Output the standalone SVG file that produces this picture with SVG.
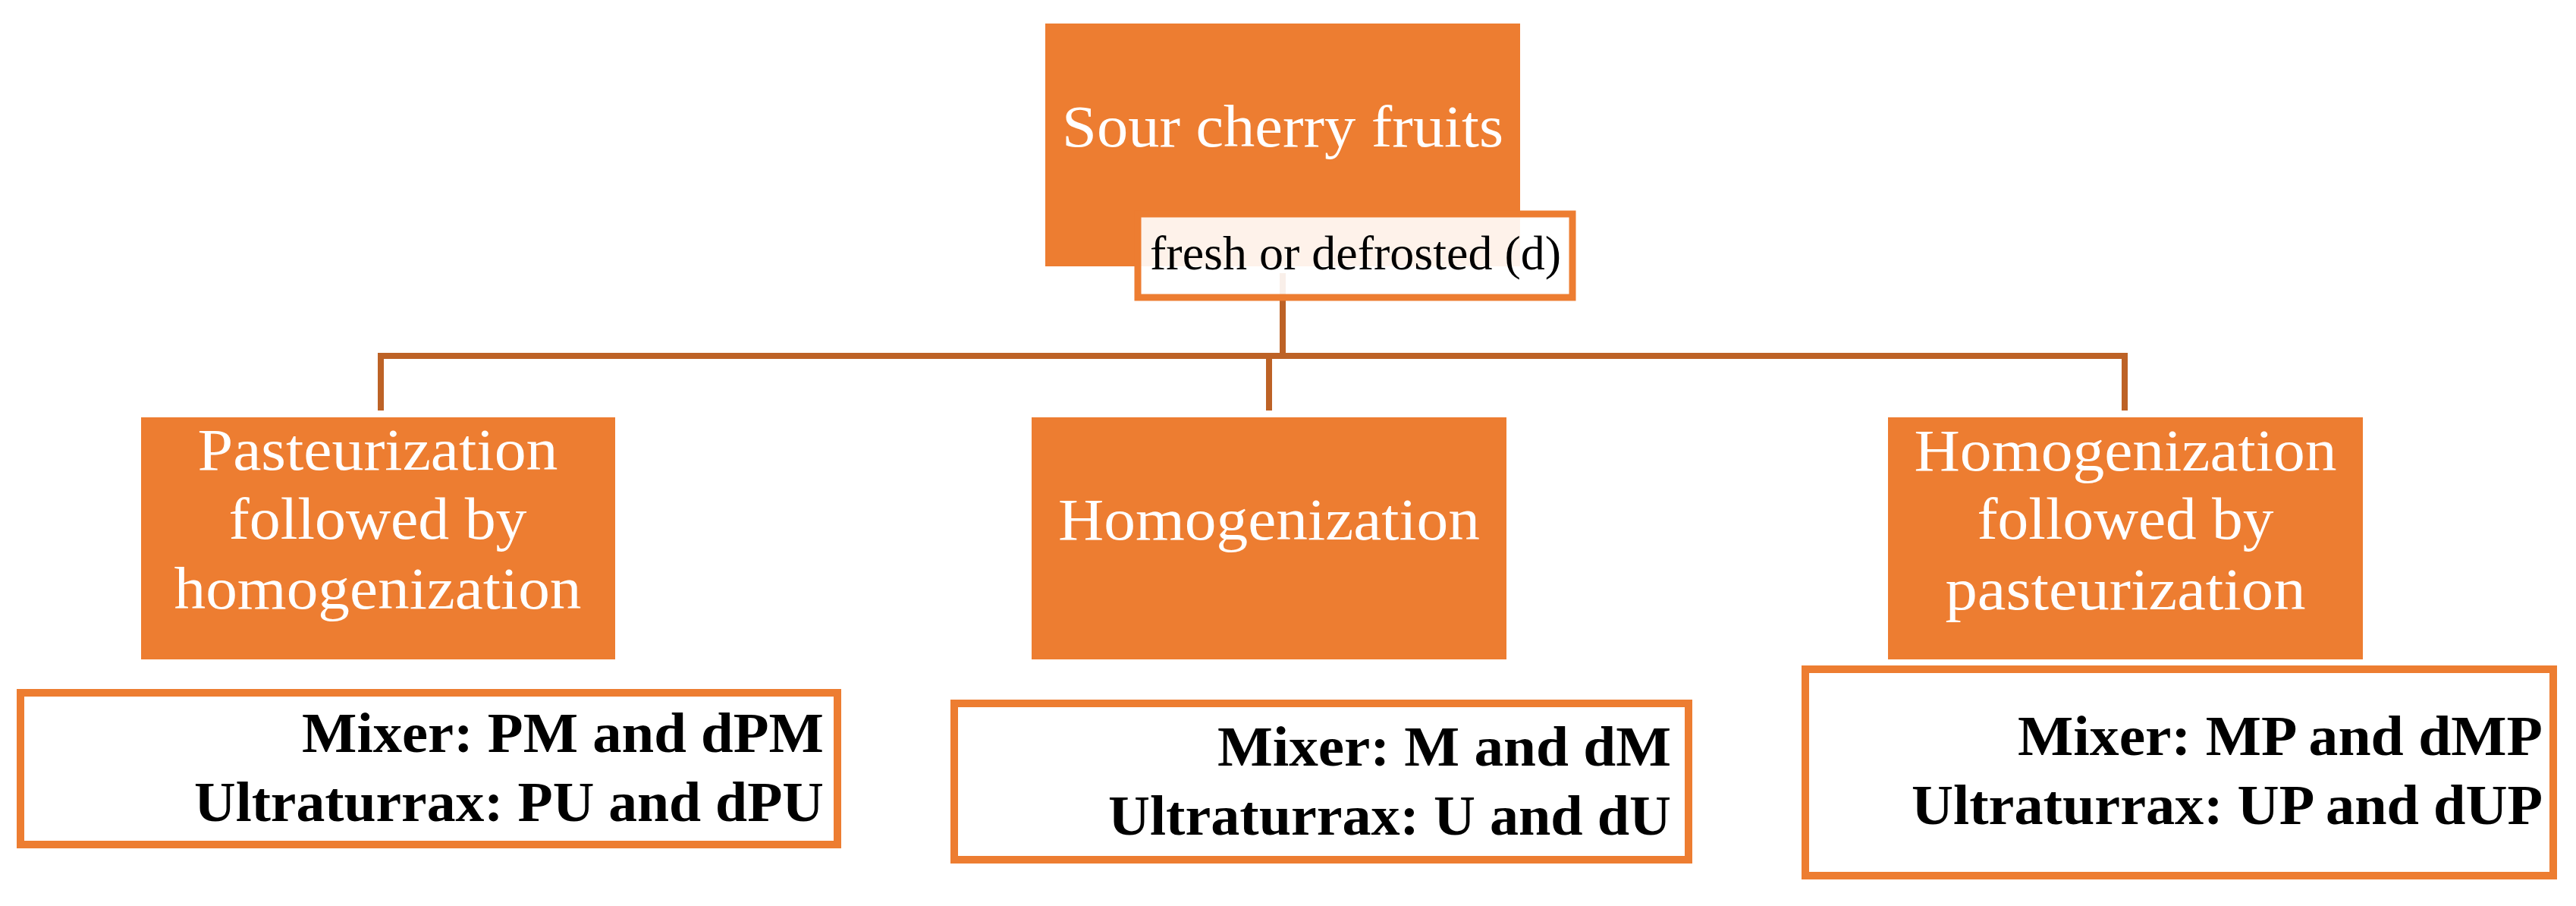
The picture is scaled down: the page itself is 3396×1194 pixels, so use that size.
<svg xmlns="http://www.w3.org/2000/svg" width="3396" height="1194" viewBox="0 0 3396 1194">
<style>
.box{fill:#ED7D31}
.obox{fill:#fff;stroke:#ED7D31;stroke-width:10}
.w{fill:#fff;font-family:"Liberation Serif",serif;font-size:78px;text-anchor:middle}
.b{fill:#000;font-family:"Liberation Serif",serif;font-size:74px;font-weight:bold;text-anchor:end}
.c{stroke:#BD6226;stroke-width:8;fill:none}
</style>
<rect width="3396" height="1194" fill="#fff"/>
<g id="connectors">
<line class="c" x1="1691" y1="360" x2="1691" y2="469"/>
<polyline class="c" points="502,541 502,469 2801,469 2801,541"/>
<line class="c" x1="1673" y1="469" x2="1673" y2="541"/>
</g>
<g id="top">
<rect class="box" x="1378" y="31" width="626" height="320"/>
<text class="w" x="1691" y="193" font-size="82" textLength="582" lengthAdjust="spacingAndGlyphs">Sour cherry fruits</text>
</g>
<g id="fresh">
<rect x="1500" y="282" width="573" height="110" fill="#fff" fill-opacity="0.9" stroke="#ED7D31" stroke-width="9"/>
<text x="1516" y="355" font-family="Liberation Serif,serif" font-size="64" fill="#000" textLength="542" lengthAdjust="spacingAndGlyphs">fresh or defrosted  (d)</text>
</g>
<g id="left">
<rect class="box" x="186" y="550" width="625" height="319"/>
<text class="w" x="498" y="619" textLength="475" lengthAdjust="spacingAndGlyphs">Pasteurization</text>
<text class="w" x="498" y="710" textLength="393" lengthAdjust="spacingAndGlyphs">followed by</text>
<text class="w" x="498" y="802" textLength="537" lengthAdjust="spacingAndGlyphs">homogenization</text>
</g>
<g id="middle">
<rect class="box" x="1360" y="550" width="626" height="319"/>
<text class="w" x="1673" y="711" textLength="556" lengthAdjust="spacingAndGlyphs">Homogenization</text>
</g>
<g id="right">
<rect class="box" x="2489" y="550" width="626" height="319"/>
<text class="w" x="2802" y="620" textLength="557" lengthAdjust="spacingAndGlyphs">Homogenization</text>
<text class="w" x="2802" y="710" textLength="391" lengthAdjust="spacingAndGlyphs">followed by</text>
<text class="w" x="2802" y="803" textLength="475" lengthAdjust="spacingAndGlyphs">pasteurization</text>
</g>
<g id="left-out">
<rect class="obox" x="27" y="913" width="1077" height="200"/>
<text class="b" x="1086" y="991" textLength="688" lengthAdjust="spacingAndGlyphs">Mixer: PM and dPM</text>
<text class="b" x="1086" y="1082" textLength="830" lengthAdjust="spacingAndGlyphs">Ultraturrax: PU and dPU</text>
</g>
<g id="middle-out">
<rect class="obox" x="1258" y="927" width="968" height="206"/>
<text class="b" x="2203" y="1009" textLength="598" lengthAdjust="spacingAndGlyphs">Mixer: M and dM</text>
<text class="b" x="2203" y="1100" textLength="742" lengthAdjust="spacingAndGlyphs">Ultraturrax: U and dU</text>
</g>
<g id="right-out">
<rect class="obox" x="2380" y="882" width="986" height="272"/>
<text class="b" x="3352" y="995" textLength="692" lengthAdjust="spacingAndGlyphs">Mixer: MP and dMP</text>
<text class="b" x="3352" y="1086" textLength="832" lengthAdjust="spacingAndGlyphs">Ultraturrax: UP and dUP</text>
</g>
</svg>
